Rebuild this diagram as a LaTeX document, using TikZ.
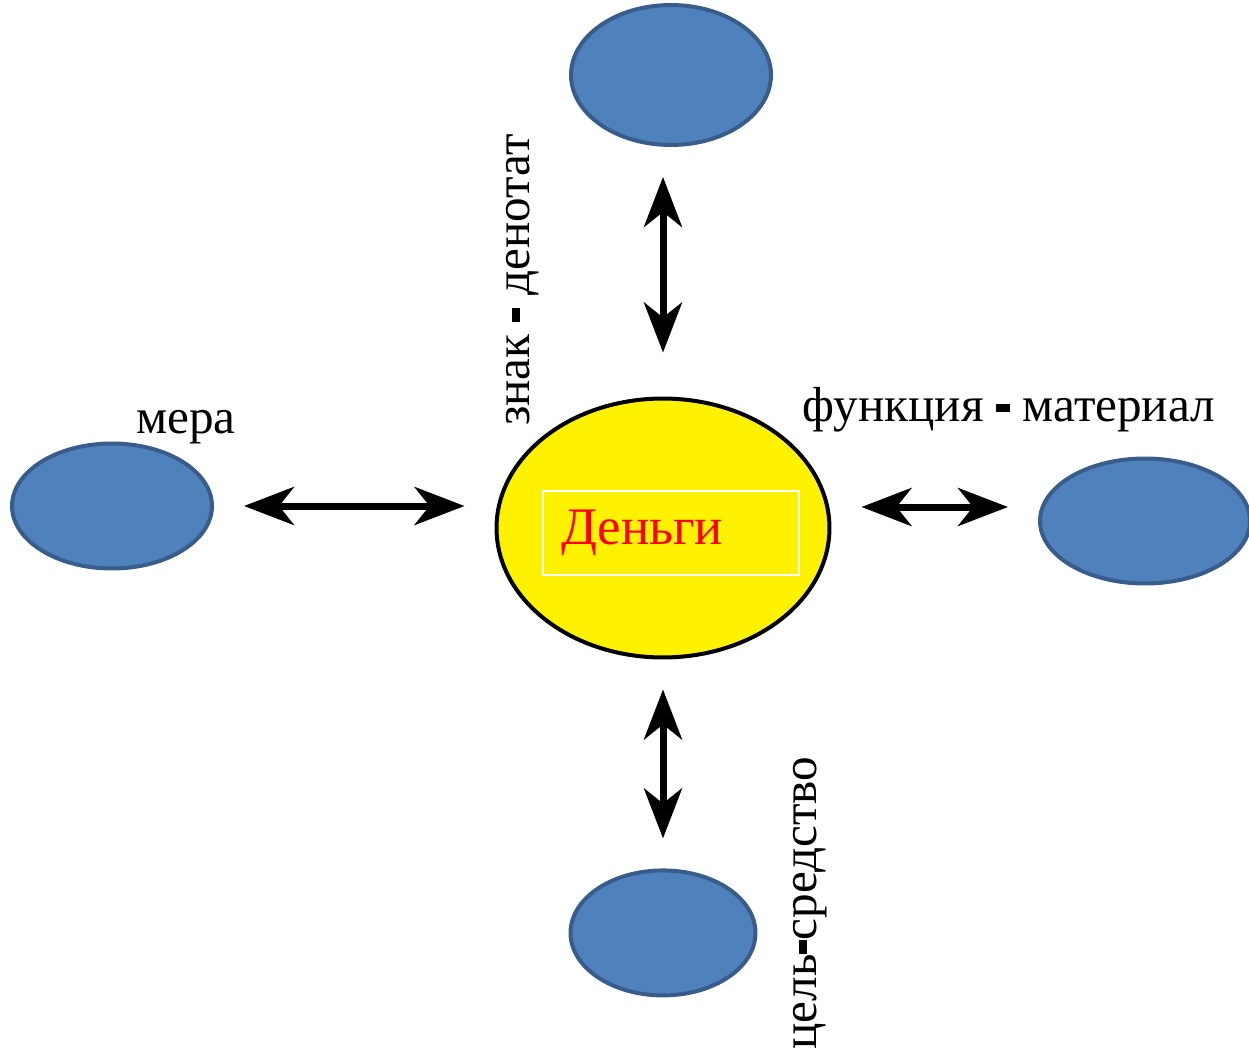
\documentclass[tikz,border=0pt]{standalone}
\usepackage{fontspec}
\setmainfont{Liberation Serif}
\usetikzlibrary{arrows.meta,positioning,shapes.geometric}
\definecolor{rolefill}{HTML}{4F81BD}
\definecolor{roleline}{HTML}{385D8A}
\newcommand{\sqdash}{\rule[0.2em]{0.29em}{0.16em}}

\begin{document}
\begin{tikzpicture}
    [x=0.02cm,y=-0.02cm,
    role/.style={ellipse,draw=roleline,fill=rolefill,line width=0.08cm,
    inner sep=0pt,minimum width=4cm,minimum height=2.5cm},
    money/.style={ellipse,draw=black,fill=yellow,line width=0.08cm,
    inner sep=0pt,minimum width=6.66cm,minimum height=5.18cm},
    twoway/.style={{Stealth[length=1cm,width=0.76cm,inset=0.3cm]}-{Stealth[length=1cm,width=0.76cm,inset=0.3cm]},
    line width=0.14cm,shorten <=0.6cm,shorten >=0.6cm},
    caption/.style={font=\rmfamily\fontsize{28pt}{32pt}\selectfont,inner sep=0pt}]
    \useasboundingbox (0,0) rectangle (1249,1048);
    \node[money] (money) at (663,528) {};
    \node[draw=white,line width=0.04cm,minimum height=1.68cm,text width=4.4cm,
    inner xsep=0.37cm,align=left,text=red,font=\rmfamily\fontsize{30pt}{34pt}\selectfont]
    (name) at (671,533) {Деньги};
    \node[role,minimum height=2.8cm] (top) at (671,75) {};
    \node[role] (left) at (112,506) {};
    \node[role,minimum width=4.2cm] (right) at (1145,521) {};
    \node[role,minimum width=3.7cm] (bottom) [below=4.18cm of money] {};
    \draw[twoway] (left.east) -- (left.east -| money.west);
    \draw[twoway] ([yshift=0.28cm]right.west -| money.east) -- ([yshift=0.28cm]right.west);
    \draw[twoway,shorten <=0.88cm] (money.north) -- (money.north |- top.south);
    \draw[twoway] (money.south) -- (bottom.north);
    \node[caption] (measure) at (186,427) {мера};
    \node[caption] (sign) at (523,280) [rotate=90] {знак \sqdash{} денотат};
    \node[caption] (function) at (1009,410) {функция \sqdash{} материал};
    \node[caption] (goal) at (810,903) [rotate=90] {цель\sqdash{}средство};
\end{tikzpicture}
\end{document}
